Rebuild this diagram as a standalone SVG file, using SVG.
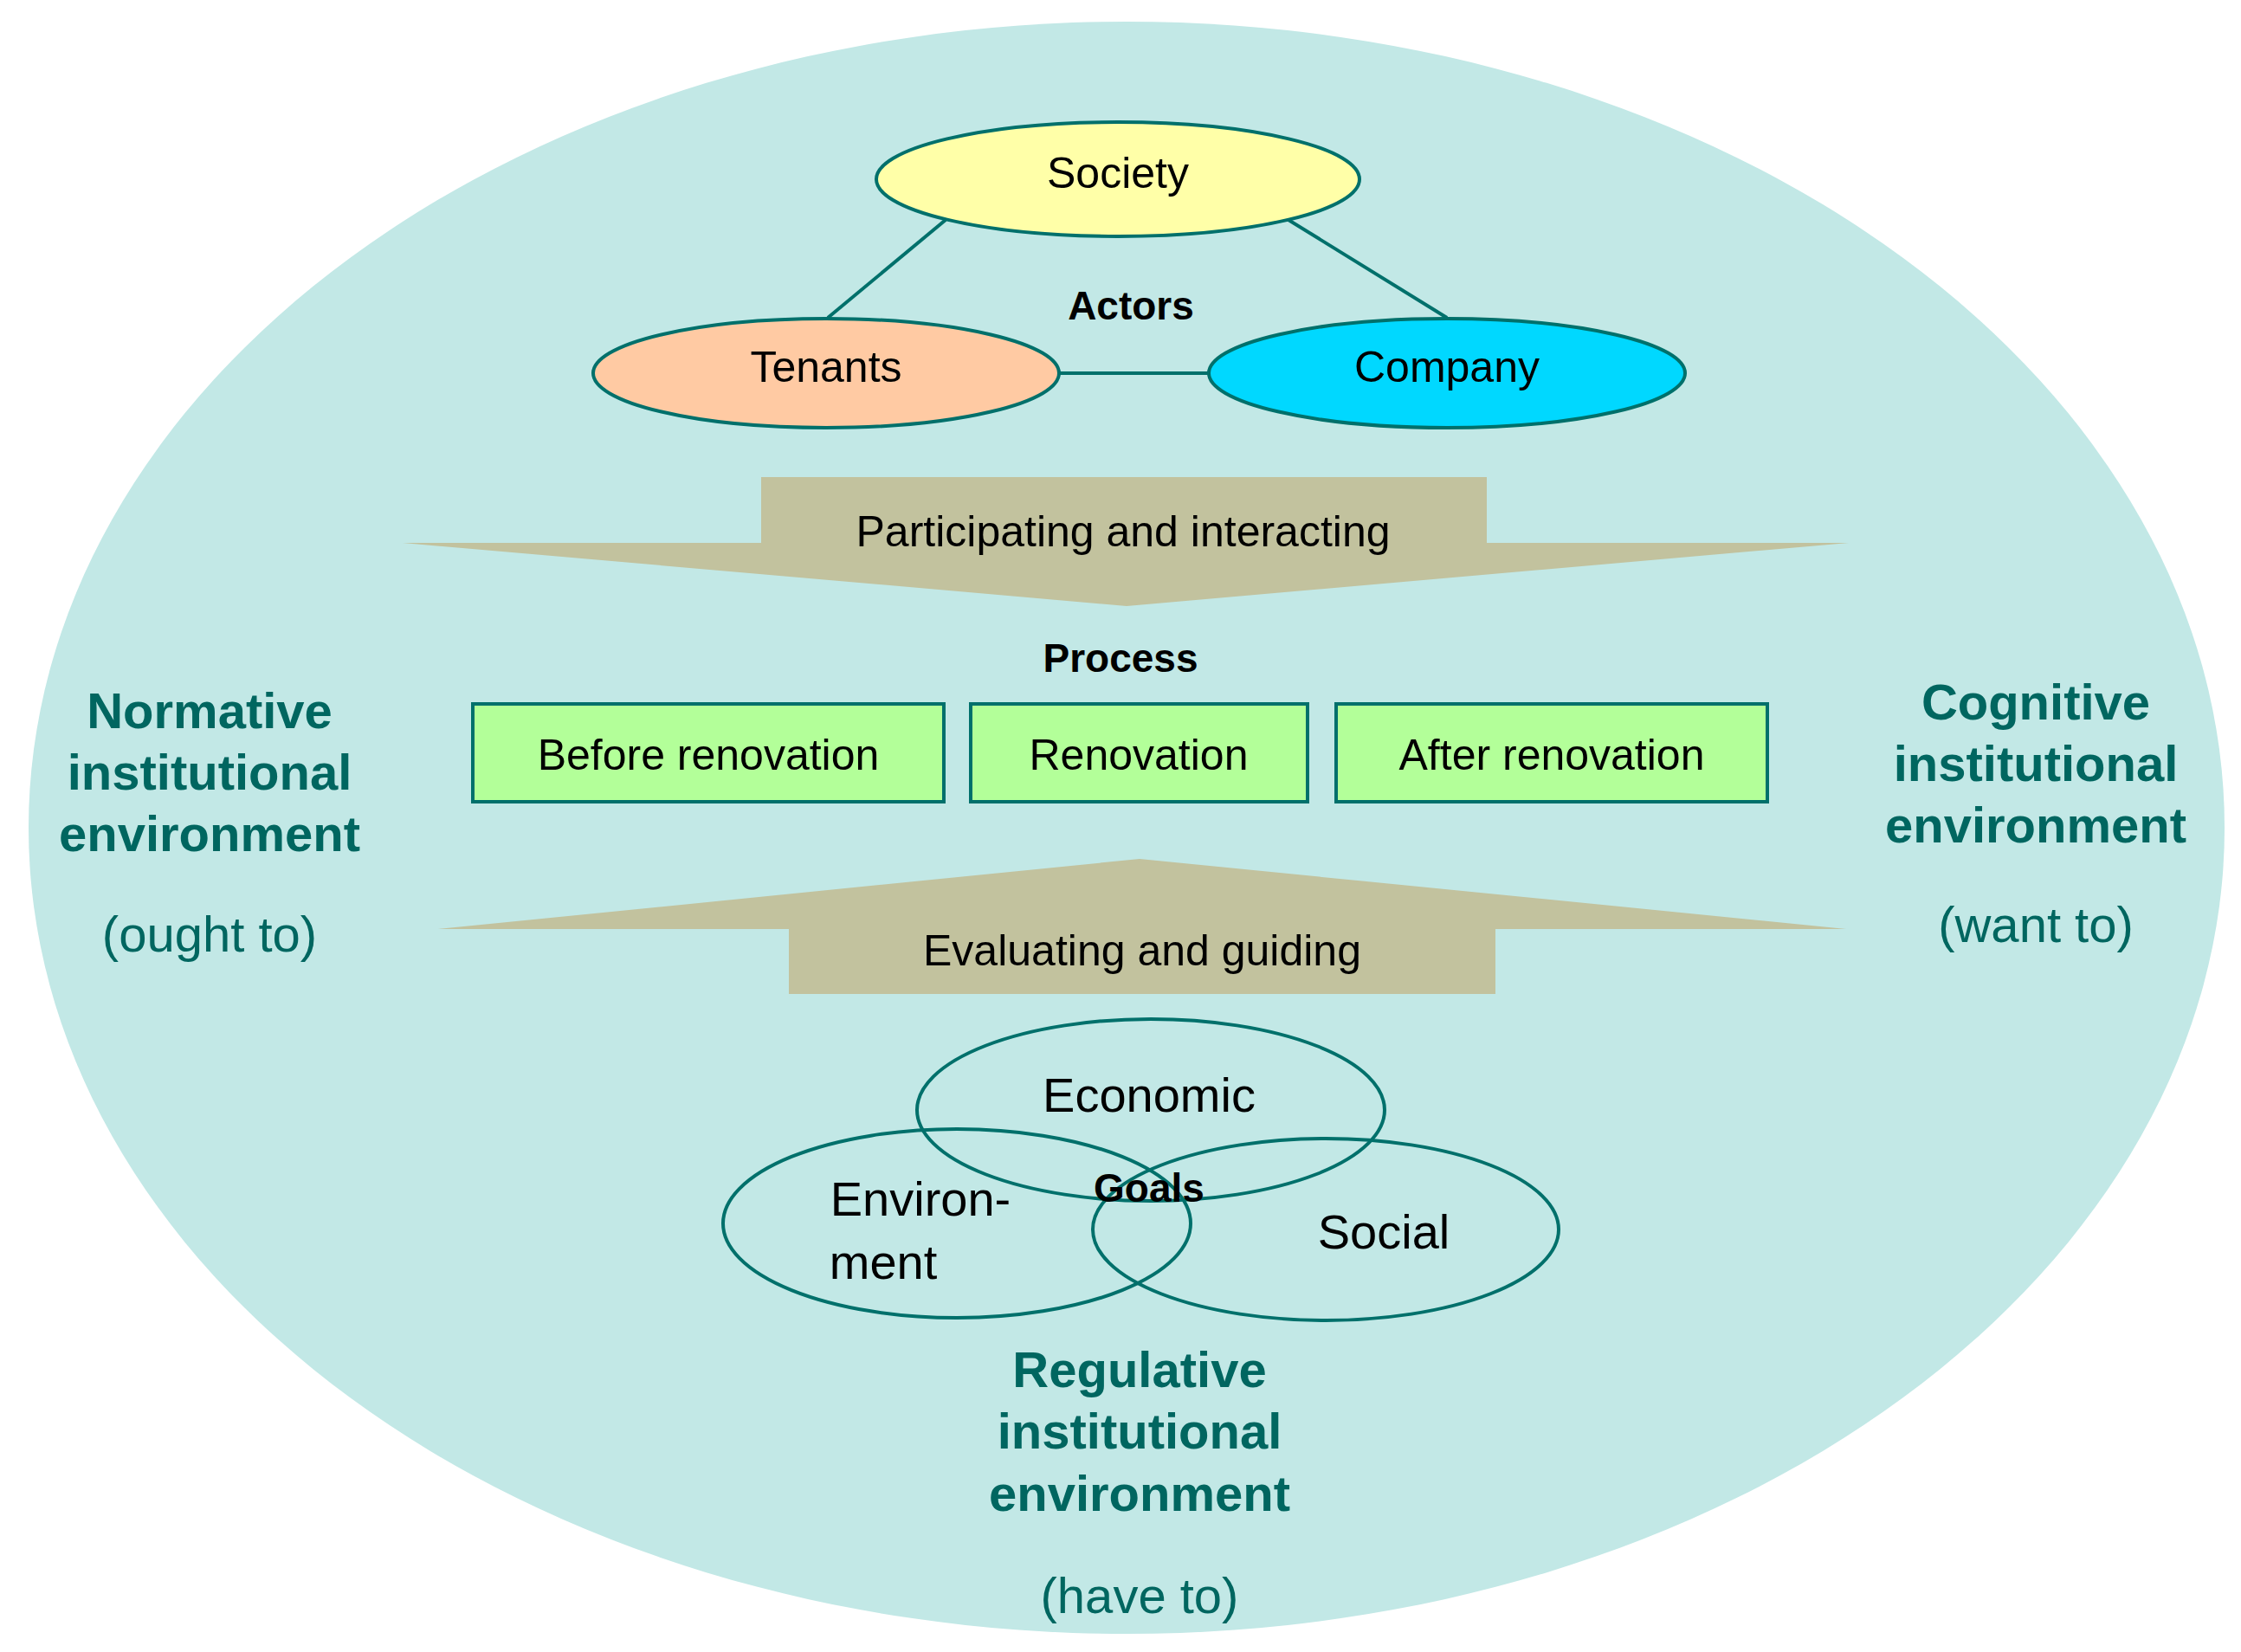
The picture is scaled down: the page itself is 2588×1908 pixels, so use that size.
<svg xmlns="http://www.w3.org/2000/svg" width="2588" height="1908" viewBox="0 0 2588 1908">
<style>
.t{font-family:"Liberation Sans",Arial,sans-serif;text-anchor:middle;dominant-baseline:central;fill:#000}
.n{font-size:50px}
.b{font-size:46px;font-weight:bold}
.g{font-size:56px}
.s{font-family:"Liberation Sans",Arial,sans-serif;text-anchor:middle;dominant-baseline:central;fill:#006660;font-size:58px}
.sb{font-weight:bold}
.nd{stroke:#00706b;stroke-width:4}
.ln{stroke:#00706b;stroke-width:4;fill:none}
</style>
<rect width="2588" height="1908" fill="#fff"/>
<g id="background"><ellipse cx="1301" cy="956" rx="1268" ry="931" fill="#c2e8e6"/></g>
<g id="connectors">
<line class="ln" x1="1092" y1="254" x2="956" y2="367"/>
<line class="ln" x1="1488" y1="254" x2="1671" y2="367"/>
<line class="ln" x1="1224" y1="431" x2="1395" y2="431"/>
</g>
<g id="society"><ellipse class="nd" cx="1291" cy="207" rx="279" ry="66" fill="#ffffa8"/><text class="t n" x="1291" y="200">Society</text></g>
<g id="tenants"><ellipse class="nd" cx="954" cy="431" rx="269" ry="63" fill="#ffcaa3"/><text class="t n" x="954" y="424">Tenants</text></g>
<g id="company"><ellipse class="nd" cx="1671" cy="431" rx="275" ry="63" fill="#00d8ff"/><text class="t n" x="1671" y="424">Company</text></g>
<g id="actors"><text class="t b" x="1306" y="353">Actors</text></g>
<g id="arrow-down"><polygon points="879,551 1717,551 1717,627 2135,627 1301,700 465,627 879,627" fill="#c2c29e"/><text class="t n" x="1297" y="614">Participating and interacting</text></g>
<g id="process"><text class="t b" x="1294" y="760">Process</text></g>
<g id="before"><rect class="nd" x="546" y="813" width="544" height="113" fill="#b3ff99"/><text class="t n" x="818" y="872">Before renovation</text></g>
<g id="renovation"><rect class="nd" x="1121" y="813" width="389" height="113" fill="#b3ff99"/><text class="t n" x="1315" y="872">Renovation</text></g>
<g id="after"><rect class="nd" x="1543" y="813" width="498" height="113" fill="#b3ff99"/><text class="t n" x="1792" y="872">After renovation</text></g>
<g id="arrow-up"><polygon points="1316,992 2132,1073 1727,1073 1727,1148 911,1148 911,1073 506,1073" fill="#c2c29e"/><text class="t n" x="1319" y="1098">Evaluating and guiding</text></g>
<g id="economic"><ellipse class="ln" cx="1329" cy="1282" rx="270" ry="105"/><text class="t g" x="1327" y="1264">Economic</text></g>
<g id="environment"><ellipse class="ln" cx="1105" cy="1413" rx="270" ry="109"/><text class="t g" x="1063" y="1384">Environ-</text><text class="t g" x="1020" y="1457">ment</text></g>
<g id="social"><ellipse class="ln" cx="1531" cy="1420" rx="269" ry="105"/><text class="t g" x="1598" y="1422">Social</text></g>
<g id="goals"><text class="t b" x="1327" y="1372">Goals</text></g>
<g id="normative"><text class="s sb" x="242" y="820">Normative</text><text class="s sb" x="242" y="891">institutional</text><text class="s sb" x="242" y="962">environment</text><text class="s" x="242" y="1078">(ought to)</text></g>
<g id="cognitive"><text class="s sb" x="2351" y="810">Cognitive</text><text class="s sb" x="2351" y="881">institutional</text><text class="s sb" x="2351" y="952">environment</text><text class="s" x="2351" y="1067">(want to)</text></g>
<g id="regulative"><text class="s sb" x="1316" y="1581">Regulative</text><text class="s sb" x="1316" y="1652">institutional</text><text class="s sb" x="1316" y="1724">environment</text><text class="s" x="1316" y="1842">(have to)</text></g>
</svg>
